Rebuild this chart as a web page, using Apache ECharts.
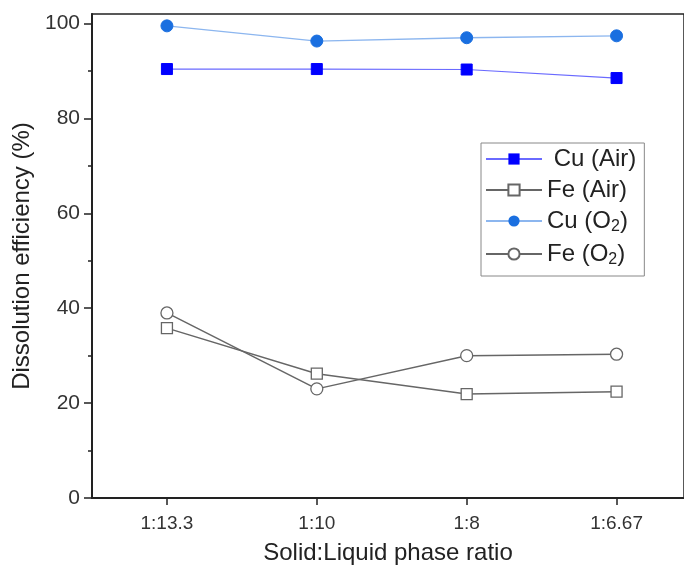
<!DOCTYPE html>
<html><head><meta charset="utf-8">
<script src="https://cdn.jsdelivr.net/npm/echarts@6/dist/echarts.min.js"></script>
<style>html,body{margin:0;padding:0;background:#fff}#c{width:684px;height:574px}</style>
</head><body><div id="c"></div>
<script>
var categories = ['1:13.3', '1:10', '1:8', '1:6.67'];
var cuAir = [90.4, 90.4, 90.3, 88.5];
var feAir = [35.8, 26.2, 21.9, 22.4];
var cuO2 = [99.5, 96.3, 97.0, 97.4];
var feO2 = [39.0, 23.0, 30.0, 30.3];
var yTicks = [0, 20, 40, 60, 80, 100];

function pts(arr){ return arr.map(function(v,i){ return [i+1, v]; }); }
var font = 'Liberation Sans, Arial, sans-serif';
var chart = echarts.init(document.getElementById('c'));
chart.setOption({
  animation: false,
  backgroundColor: '#fff',
  grid: {left: 92, right: 0, top: 14, bottom: 76, show: true, borderColor: '#222', borderWidth: 1.5},
  xAxis: {
    type: 'value', min: 0.5, max: 4.45, interval: 1,
    name: 'Solid:Liquid phase ratio', nameLocation: 'middle', nameGap: 43,
    nameTextStyle: {fontFamily: font, fontSize: 24, color: '#222'},
    axisLine: {show: true, lineStyle: {color: '#222', width: 2}},
    axisTick: {show: true, length: 7, inside: false, lineStyle: {color: '#222', width: 1.5},
      customValues: [1,2,3,4]},
    axisLabel: {fontFamily: font, fontSize: 19, color: '#333', margin: 16,
      customValues: [1,2,3,4],
      formatter: function(v){ var i = Math.round(v) - 1; return categories[i] || ''; }},
    splitLine: {show: false}
  },
  yAxis: {
    type: 'value', min: 0, max: 102, interval: 20,
    name: 'Dissolution efficiency (%)', nameLocation: 'middle', nameGap: 58, nameRotate: 90,
    nameTextStyle: {fontFamily: font, fontSize: 24, color: '#222'},
    axisLine: {show: true, lineStyle: {color: '#222', width: 2}},
    axisTick: {show: true, length: 8, lineStyle: {color: '#222', width: 1.5}, customValues: yTicks},
    minorTick: {show: true, splitNumber: 2, length: 4, lineStyle: {color: '#222', width: 1.5}},
    axisLabel: {fontFamily: font, fontSize: 21, color: '#333', margin: 12, customValues: yTicks},
    splitLine: {show: false}
  },
  legend: {
    orient: 'vertical', left: 481, top: 143,
    backgroundColor: '#fff', borderColor: '#888', borderWidth: 1,
    padding: [4, 8, 8, 4], itemGap: 7, itemWidth: 56, itemHeight: 14,
    textStyle: {fontFamily: font, fontSize: 24, color: '#222',
      rich: {sub: {fontFamily: font, fontSize: 16, color: '#222', verticalAlign: 'bottom', padding: [12, 0, 0, 0]}}},
    formatter: function(n){ return n === 'Cu (Air)' ? ' ' + n : n.replace('O2', 'O{sub|2}'); },
    data: ['Cu (Air)', 'Fe (Air)', 'Cu (O2)', 'Fe (O2)']
  },
  series: [
    {name: 'Cu (Air)', type: 'line', data: pts(cuAir), symbol: 'rect', symbolSize: 11,
      lineStyle: {color: '#6a6aff', width: 1.2}, itemStyle: {color: '#0000ff', borderColor: '#0000ff'}},
    {name: 'Fe (Air)', type: 'line', data: pts(feAir), symbol: 'rect', symbolSize: 11,
      lineStyle: {color: '#666', width: 1.5}, itemStyle: {color: '#fff', borderColor: '#666', borderWidth: 1.3}},
    {name: 'Cu (O2)', type: 'line', data: pts(cuO2), symbol: 'circle', symbolSize: 12,
      lineStyle: {color: '#8cb6ef', width: 1.3}, itemStyle: {color: '#1a6fe0', borderColor: '#1a6fe0'}},
    {name: 'Fe (O2)', type: 'line', data: pts(feO2), symbol: 'circle', symbolSize: 12,
      lineStyle: {color: '#666', width: 1.5}, itemStyle: {color: '#fff', borderColor: '#666', borderWidth: 1.3}}
  ]
});
</script></body></html>
